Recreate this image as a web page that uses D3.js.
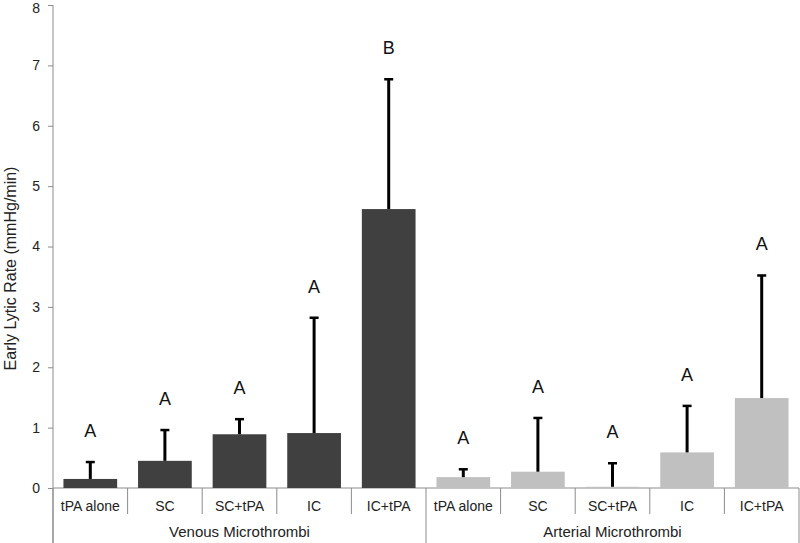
<!DOCTYPE html>
<html><head><meta charset="utf-8">
<script src="https://cdn.jsdelivr.net/npm/d3@7"></script>
<style>body{margin:0;background:#fff}svg{display:block}text{font-family:"Liberation Sans",Arial,sans-serif}</style>
</head><body>
<svg id="c" width="800" height="543"></svg>
<script>
const groups = ["Venous Microthrombi", "Arterial Microthrombi"];
const treatments = ["tPA alone", "SC", "SC+tPA", "IC", "IC+tPA"];
const venousMeans = [0.15, 0.45, 0.89, 0.91, 4.62];
const venousErrTop = [0.43, 0.96, 1.14, 2.82, 6.77];
const venousLetters = ["A", "A", "A", "A", "B"];
const arterialMeans = [0.18, 0.27, 0.02, 0.59, 1.49];
const arterialErrTop = [0.31, 1.16, 0.41, 1.36, 3.52];
const arterialLetters = ["A", "A", "A", "A", "A"];
const yTicks = [0,1,2,3,4,5,6,7,8];

const data = [];
treatments.forEach((t,i)=>data.push({g:0,t,key:"v"+i,mean:venousMeans[i],err:venousErrTop[i],letter:venousLetters[i]}));
treatments.forEach((t,i)=>data.push({g:1,t,key:"a"+i,mean:arterialMeans[i],err:arterialErrTop[i],letter:arterialLetters[i]}));

const svg = d3.select("#c");
const left = 53, right = 799, y0 = 488, yTop = 5;
const x = d3.scaleBand().domain(data.map(d=>d.key)).range([left,right]).paddingInner(0.28).paddingOuter(0.14);
const y = d3.scaleLinear().domain([0,8]).range([y0,yTop]);
const axisColor = "#8c8c8c";
const colors = ["#404040","#c0c0c0"];

// y axis
const ya = svg.append("g").attr("transform",`translate(${left},0)`)
  .call(d3.axisLeft(y).tickValues(yTicks).tickSize(5).tickPadding(8).tickFormat(d3.format("d")));
ya.select(".domain").remove();
ya.selectAll(".tick line").attr("stroke",axisColor);
ya.selectAll(".tick text").attr("font-size",14).attr("fill","#222")
  .attr("dy",d=>d===8 ? "0.5em" : "0.32em");
svg.append("line").attr("x1",left).attr("x2",left).attr("y1",yTop).attr("y2",543).attr("stroke",axisColor);

svg.append("text").attr("transform",`translate(12,${(y0+yTop)/2+22}) rotate(-90)`)
  .attr("text-anchor","middle").attr("dominant-baseline","middle").attr("font-size",16).attr("fill","#222")
  .text("Early Lytic Rate (mmHg/min)");

// x axis line
svg.append("line").attr("x1",left).attr("x2",right).attr("y1",y0).attr("y2",y0).attr("stroke",axisColor);

// bars
svg.selectAll("rect.bar").data(data).join("rect").attr("class","bar")
  .attr("x",d=>x(d.key)).attr("width",x.bandwidth())
  .attr("y",d=>y(d.mean)).attr("height",d=>y0-y(d.mean))
  .attr("fill",d=>colors[d.g]);

// error bars
const cx = d=>x(d.key)+x.bandwidth()/2;
svg.selectAll("line.err").data(data).join("line").attr("class","err")
  .attr("x1",cx).attr("x2",cx).attr("y1",d=>y(d.mean)).attr("y2",d=>y(d.err))
  .attr("stroke","#000").attr("stroke-width",3);
svg.selectAll("line.cap").data(data).join("line").attr("class","cap")
  .attr("x1",d=>cx(d)-4.5).attr("x2",d=>cx(d)+4.5).attr("y1",d=>y(d.err)).attr("y2",d=>y(d.err))
  .attr("stroke","#000").attr("stroke-width",2.5);

// letters
svg.selectAll("text.letter").data(data).join("text").attr("class","letter")
  .attr("x",cx).attr("y",d=>y(d.err)-25).attr("text-anchor","middle")
  .attr("font-size",18).attr("fill","#111").text(d=>d.letter);

// category separators and labels
const step = x.step();
const bounds = d3.range(data.length+1).map(i=>left+i*step);
svg.selectAll("line.sep").data(bounds).join("line").attr("class","sep")
  .attr("x1",d=>d).attr("x2",d=>d).attr("y1",y0)
  .attr("y2",(d,i)=> (i%5===0) ? 543 : 514)
  .attr("stroke",axisColor);
svg.selectAll("text.cat").data(data).join("text").attr("class","cat")
  .attr("x",cx).attr("y",511).attr("text-anchor","middle").attr("font-size",14).attr("fill","#222")
  .text(d=>d.t);
svg.selectAll("text.grp").data(groups).join("text").attr("class","grp")
  .attr("x",(d,i)=>left+(i*5+2.5)*step).attr("y",537).attr("text-anchor","middle")
  .attr("font-size",15).attr("fill","#222").text(d=>d);
</script>
</body></html>
